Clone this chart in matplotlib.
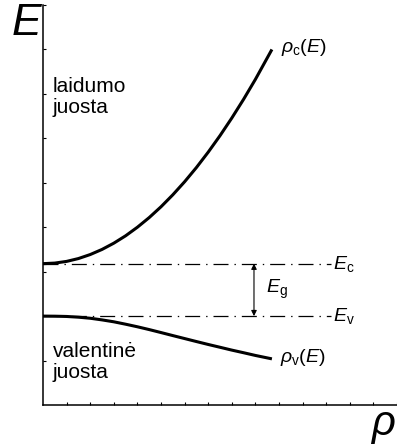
import matplotlib
matplotlib.use("Agg")
import matplotlib.pyplot as plt

plt.rcParams["font.family"] = ["Liberation Sans", "DejaVu Sans"]
plt.rcParams["mathtext.fontset"] = "custom"
plt.rcParams["mathtext.rm"] = "Liberation Sans"
plt.rcParams["mathtext.it"] = "Liberation Sans:italic"
plt.rcParams["lines.scale_dashes"] = False

# Band edges (arbitrary energy units)
E_c = 3.18
E_v = 2.0

# Density of states in the conduction band: rho -> E
rho_c = [0, 0.5, 1, 1.5, 2, 2.5, 3, 3.5, 4, 4.5, 5, 5.5, 6, 6.5, 7, 7.5, 8, 8.5, 9, 9.7]
E_cb = [3.18, 3.193, 3.231, 3.295, 3.385, 3.50, 3.641, 3.807, 4.00, 4.217,
        4.46, 4.729, 5.023, 5.343, 5.689, 6.06, 6.457, 6.879, 7.327, 8.0]

# Density of states in the valence band: rho -> E
rho_v = [0, 0.5, 1, 1.5, 2, 2.5, 3, 3.5, 4, 4.5, 5, 5.5, 6, 6.5, 7, 7.5, 8, 8.5, 9, 9.7]
E_vb = [2.0, 1.998, 1.992, 1.976, 1.952, 1.915, 1.872, 1.818, 1.760, 1.697,
        1.630, 1.562, 1.495, 1.428, 1.362, 1.299, 1.235, 1.176, 1.115, 1.038]

level_end = 12.2   # right end of the band-edge lines
gap_x = 8.94       # position of the band-gap arrow

fig = plt.figure(figsize=(3.97, 4.44), dpi=100)
ax = fig.add_axes([43 / 397, 39 / 444, 354 / 397, 400 / 444])
ax.set_xlim(0, 15)
ax.set_ylim(0, 9)

for s in ("top", "right"):
    ax.spines[s].set_visible(False)
for s in ("left", "bottom"):
    ax.spines[s].set_linewidth(1.1)

ax.set_xticks(range(1, 16))
ax.set_yticks(range(1, 10))
ax.tick_params(direction="in", length=2, width=0.8,
               labelleft=False, labelbottom=False)

dashdot = (0, (10.8, 4.3, 1.0, 4.3))
ax.plot([0, level_end], [E_c, E_c], color="black", lw=0.9, linestyle=dashdot)
ax.plot([0, level_end], [E_v, E_v], color="black", lw=0.9, linestyle=dashdot)

ax.plot(rho_c, E_cb, color="black", lw=2.2, solid_capstyle="butt")
ax.plot(rho_v, E_vb, color="black", lw=2.2, solid_capstyle="butt")

ax.annotate("", xy=(gap_x, E_v), xytext=(gap_x, E_c),
            arrowprops=dict(arrowstyle="<|-|>", color="black", lw=0.8,
                            mutation_scale=8, shrinkA=0, shrinkB=0))

fs = 14
ax.text(12.29, E_c, r"$E_\mathrm{c}$", fontsize=fs, ha="left", va="center")
ax.text(12.29, E_v, r"$E_\mathrm{v}$", fontsize=fs, ha="left", va="center")
ax.text(9.45, (E_c + E_v) / 2, r"$E_\mathrm{g}$", fontsize=fs, ha="left", va="center")
ax.text(10.08, 8.04, r"$\rho_\mathrm{c}(E)$", fontsize=fs, ha="left", va="center")
ax.text(10.04, 1.08, r"$\rho_\mathrm{v}(E)$", fontsize=fs, ha="left", va="center")

ax.text(0.42, 7.38, "laidumo\njuosta", fontsize=15, ha="left", va="top",
        linespacing=1.15)
ax.text(0.42, 1.42, "valentinė\njuosta", fontsize=15, ha="left", va="top",
        linespacing=1.15)

ax.text(-0.72, 8.58, "E", fontsize=32, style="italic", ha="center",
        va="center", clip_on=False)
ax.text(14.9, -0.68, "ρ", fontsize=30, style="italic", ha="right",
        va="baseline", clip_on=False)

fig.savefig("out.png", dpi=100)
